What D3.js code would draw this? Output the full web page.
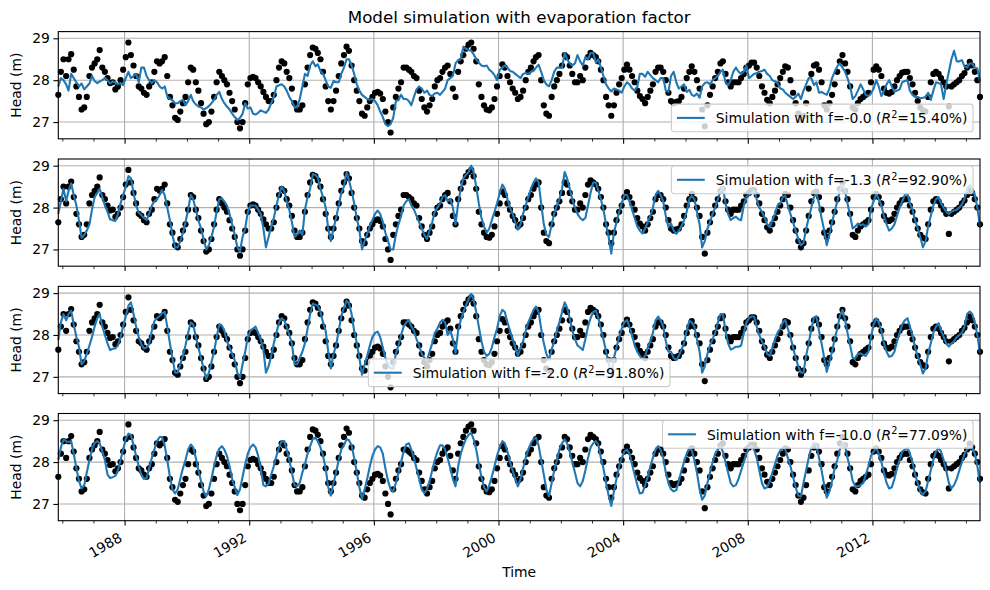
<!DOCTYPE html>
<html>
<head>
<meta charset="utf-8">
<script src="https://cdn.jsdelivr.net/npm/d3@7"></script>
<style>
body { margin: 0; background: #fff; }
svg { display: block; font-family: "DejaVu Sans", sans-serif; }
</style>
</head>
<body>
<div id="vis"></div>
<script>
// Monthly values, first month is Nov 1985, last is Jun 2015
let observed = [
  27.65, 28.2,
  28.5, 28.1, 28.5, 28.62, 28.25, 27.85, 27.6, 27.3, 27.35, 27.6, 28.1, 28.3,
  28.4, 28.5, 28.72, 28.3, 28.2, 28.05, 27.93, 27.95, 27.78, 27.85, 28.0, 28.25,
  28.55, 28.9, 28.6, 28.35, 28.1, 27.85, 27.8, 27.7, 27.65, 27.85, 27.95, 28.2,
  28.45, 28.4, 28.45, 28.55, 28.1, 27.6, 27.4, 27.1, 27.05, 27.25, 27.45, 27.6,
  27.95, 28.3, 28.25, 27.95, 27.75, 27.45, 27.2, 26.95, 27.0, 27.25, 27.6, 27.95,
  28.2, 28.1, 28.0, 27.9, 27.7, 27.5, 27.3, 27.0, 26.85, 27.0, 27.45, 27.9,
  28.05, 28.08, 28.05, 27.95, 27.85, 27.72, 27.6, 27.5, 27.5, 27.65, 28.0, 28.3,
  28.45, 28.4, 28.2, 28.05, 27.8, 27.45, 27.3, 27.3, 27.4, 27.9, 28.3, 28.6,
  28.78, 28.75, 28.65, 28.5, 28.2, 27.85, 27.5, 27.3, 27.5, 27.75, 28.1, 28.4,
  28.6, 28.8, 28.7, 28.35, 28.0, 27.75, 27.5, 27.2, 27.15, 27.35, 27.5, 27.6,
  27.7, 27.72, 27.68, 27.55, 27.25, 27.0, 26.75, 27.35, 27.6, 27.8, 27.95, 28.3,
  28.3, 28.25, 28.2, 28.1, 28.05, 27.75, 27.55, 27.35, 27.25, 27.4, 27.55, 27.85,
  28.0, 28.05, 28.2, 28.3, 28.35, 28.15, 27.8, 27.6, 28.2, 28.45, 28.6, 28.75,
  28.85, 28.9, 28.75, 28.45, 27.9, 27.6, 27.4, 27.3, 27.28, 27.35, 27.55, 27.85,
  28.1, 28.38, 28.3, 28.1, 27.95, 27.8, 27.7, 27.55, 27.6, 27.75, 28.0, 28.2,
  28.3, 28.45, 28.55, 28.6, 28.0, 27.4, 27.2, 27.15, 27.6, 27.85, 28.0, 28.15,
  28.35, 28.6, 28.55, 28.35, 28.15, 27.95, 27.95, 28.1, 28.0, 28.3, 28.55, 28.65,
  28.6, 28.55, 28.45, 28.25, 28.0, 27.6, 27.4, 27.15, 27.4, 27.7, 27.9, 28.05,
  28.25, 28.37, 28.25, 28.1, 27.95, 27.75, 27.62, 27.55, 27.45, 27.6, 27.75, 27.9,
  28.2, 28.3, 28.3, 28.2, 28.0, 27.7, 27.5, 27.45, 27.48, 27.5, 27.6, 27.8,
  28.05, 28.2, 28.33, 28.2, 28.0, 27.8, 27.3, 26.9, 27.4, 27.65, 27.85, 28.05,
  28.2, 28.4, 28.45, 28.15, 27.95, 27.85, 27.95, 27.95, 27.95, 28.05, 28.15, 28.3,
  28.35, 28.42, 28.42, 28.3, 28.1, 27.85, 27.7, 27.53, 27.45, 27.6, 27.75, 27.9,
  28.05, 28.2, 28.33, 28.3, 28.0, 27.7, 27.45, 27.2, 27.05, 27.15, 27.45, 27.8,
  28.15, 28.35, 28.38, 28.25, 27.95, 27.4, 27.3, 27.45, 27.65, 27.9, 28.2, 28.45,
  28.6, 28.4, 28.2, 27.85, 27.35, 27.3, 27.45, 27.55, 27.6, 27.65, 27.7, 27.95,
  28.25, 28.33, 28.25, 28.1, 27.8, 27.7, 27.68, 27.72, 27.85, 28.0, 28.1, 28.18,
  28.2, 28.2, 28.05, 27.9, 27.7, 27.5, 27.35, 27.28, 27.25, 27.6, 27.95, 28.15,
  28.2, 28.15, 28.05, 27.95, 27.85, 27.37, 27.85, 27.9, 27.95, 28.0, 28.1, 28.17,
  28.3, 28.44, 28.35, 28.2, 28.0, 27.6
];

let simF00 = [
  27.85, 28.05,
  28.0, 27.9, 27.75, 28.15, 28.05, 27.95, 27.85, 27.92, 27.78, 27.85, 27.92, 28.1,
  27.98, 27.93, 27.97, 28.0, 28.05, 28.0, 27.92, 27.97, 27.95, 27.9, 27.93, 27.88,
  28.05, 28.2, 28.05, 28.1, 28.15, 27.95, 28.3, 28.3, 28.1, 28.0, 27.93, 28.0,
  27.95, 27.85, 27.8, 27.85, 27.62, 27.55, 27.52, 27.45, 27.45, 27.5, 27.53, 27.4,
  27.5, 27.65, 27.5, 27.42, 27.37, 27.35, 27.3, 27.33, 27.38, 27.45, 27.53, 27.65,
  27.72, 27.55, 27.45, 27.37, 27.3, 27.2, 27.12, 27.05, 27.1, 27.2, 27.45, 27.32,
  27.35, 27.2, 27.18, 27.22, 27.28, 27.25, 27.22, 27.3, 27.45, 27.6, 27.85, 27.88,
  27.9, 27.85, 27.75, 27.6, 27.5, 27.35, 27.35, 27.55, 27.85, 28.15, 28.1, 28.35,
  28.45, 28.33, 28.38, 28.22, 28.15, 28.0, 27.85, 27.82, 27.98, 27.95, 27.95, 28.15,
  28.3, 28.5, 28.5, 28.35, 28.15, 27.9, 27.75, 27.65, 27.6, 27.55, 27.53, 27.55,
  27.5, 27.4, 27.25, 27.12, 26.95, 26.9, 26.95, 27.1, 27.5, 27.52, 27.65, 27.55,
  27.55, 27.5, 27.4, 27.6, 27.78, 27.85, 27.8, 27.7, 27.75, 27.65, 27.62, 27.68,
  27.7, 27.65, 27.72, 27.8, 28.0, 28.05, 28.1, 28.4, 28.48, 28.5, 28.8, 28.75,
  28.72, 28.7, 28.62, 28.5, 28.42, 28.35, 28.33, 28.35, 28.25, 28.2, 28.12, 28.0,
  28.25, 28.3, 28.35, 28.3, 28.22, 28.2, 28.15, 28.1, 28.05, 28.15, 28.17, 28.15,
  28.2, 28.22, 28.3, 28.37, 28.2, 28.0, 27.9, 27.85, 28.0, 28.2, 28.3, 28.3,
  28.3, 28.65, 28.5, 28.4, 28.35, 28.4, 28.6, 28.45, 28.35, 28.55, 28.5, 28.65,
  28.65, 28.42, 28.5, 28.3, 28.1, 27.9, 27.8, 27.73, 27.8, 27.78, 27.75, 27.7,
  27.85, 27.95, 27.9, 27.8, 27.75, 27.85, 28.15, 28.15, 28.08, 28.2, 28.12, 28.05,
  28.0, 27.95, 28.05, 28.05, 27.75, 27.72, 28.1, 28.2, 27.95, 27.8, 27.85, 27.9,
  27.72, 27.77, 27.65, 27.62, 27.68, 27.58, 27.85, 27.93, 27.95, 27.9, 28.0, 28.05,
  28.1, 28.2, 28.25, 27.95, 27.88, 28.0, 28.2, 28.3, 28.2, 28.15, 28.2, 28.35,
  28.05, 28.1, 28.15, 28.17, 28.2, 28.22, 28.25, 28.15, 28.1, 28.0, 27.97, 27.93,
  27.8, 27.78, 27.7, 27.65, 27.6, 27.55, 27.6, 27.68, 27.55, 27.75, 27.9, 28.05,
  28.05, 27.88, 27.95, 27.7, 27.72, 27.68, 27.65, 27.8, 28.05, 28.2, 28.33, 28.4,
  28.3, 28.2, 28.05, 27.85, 27.55, 27.62, 27.75, 27.9, 27.78, 27.65, 27.62, 27.68,
  27.8, 28.0, 27.85, 27.62, 27.75, 27.9, 28.0, 27.85, 27.72, 27.75, 27.78, 27.95,
  27.98, 28.0, 27.75, 27.65, 27.6, 27.6, 27.57, 27.58, 27.6, 27.7, 27.53, 27.75,
  27.95, 27.93, 27.9, 27.55, 27.9, 28.2, 28.5, 28.7, 28.45, 28.45, 28.48, 28.33,
  28.3, 28.4, 28.4, 28.3, 28.28, 27.97
];

let simF13 = [
  27.85, 28.15,
  28.45, 28.15, 28.4, 28.58, 28.3, 28.05, 27.7, 27.28, 27.35, 27.45, 27.6, 27.95,
  28.25, 28.35, 28.45, 28.25, 28.05, 27.9, 27.72, 27.7, 27.68, 27.85, 28.1, 28.3,
  28.5, 28.75, 28.7, 28.35, 28.05, 27.88, 27.82, 27.75, 27.7, 27.85, 28.05, 28.15,
  28.2, 28.3, 28.42, 28.3, 28.0, 27.7, 27.35, 27.05, 27.05, 27.2, 27.4, 27.65,
  27.95, 28.3, 28.2, 27.95, 27.7, 27.5, 27.25, 27.0, 27.1, 27.3, 27.55, 27.9,
  28.2, 28.22, 28.15, 28.05, 27.85, 27.6, 27.35, 27.05, 26.95, 27.3, 27.5, 27.9,
  28.05, 28.05, 28.05, 27.95, 27.85, 27.5, 27.05, 27.3, 27.55, 27.75, 28.05, 28.3,
  28.5, 28.4, 28.15, 27.95, 27.65, 27.3, 27.35, 27.45, 27.35, 27.95, 28.25, 28.45,
  28.8, 28.78, 28.72, 28.45, 28.25, 28.0, 27.5, 27.2, 27.5, 27.75, 28.05, 28.35,
  28.5, 28.85, 28.65, 28.4, 28.1, 27.75, 27.45, 27.0, 27.2, 27.37, 27.55, 27.7,
  27.85, 27.93, 27.85, 27.65, 27.4, 27.2, 27.0, 27.0, 27.35, 27.6, 27.8, 28.05,
  28.15, 28.2, 28.05, 27.95, 27.8, 27.65, 27.5, 27.35, 27.25, 27.45, 27.65, 27.9,
  28.0, 28.1, 28.25, 28.3, 28.15, 28.2, 28.0, 27.6, 28.1, 28.45, 28.7, 28.78,
  28.85, 29.0, 28.85, 28.5, 28.1, 27.75, 27.55, 27.4, 27.5, 27.7, 27.9, 28.1,
  28.35, 28.55, 28.45, 28.2, 28.0, 27.85, 27.65, 27.47, 27.6, 27.85, 28.05, 28.25,
  28.45, 28.6, 28.7, 28.6, 28.1, 27.6, 27.35, 27.3, 27.6, 27.85, 28.05, 28.2,
  28.45, 28.85, 28.7, 28.45, 28.2, 28.0, 27.85, 27.75, 27.7, 27.75, 28.05, 28.35,
  28.6, 28.6, 28.42, 28.2, 27.95, 27.6, 27.3, 26.9, 27.4, 27.65, 27.9, 28.1,
  28.3, 28.3, 28.15, 27.95, 27.75, 27.55, 27.45, 27.38, 27.5, 27.65, 27.8, 28.0,
  28.3, 28.4, 28.3, 28.15, 27.8, 27.53, 27.62, 27.45, 27.37, 27.45, 27.55, 27.7,
  27.9, 28.2, 28.28, 28.2, 27.9, 27.6, 27.05, 27.2, 27.5, 27.65, 27.85, 28.0,
  28.2, 28.4, 28.5, 28.1, 27.85, 27.7, 27.75, 27.78, 27.72, 27.7, 28.05, 28.25,
  28.3, 28.35, 28.4, 28.2, 28.0, 27.9, 27.77, 27.6, 27.53, 27.7, 27.85, 28.05,
  28.1, 28.25, 28.28, 28.05, 27.85, 27.65, 27.45, 27.25, 27.1, 27.15, 27.5, 27.75,
  28.0, 28.25, 28.33, 28.1, 27.75, 27.45, 27.1, 27.35, 27.65, 27.9, 28.15, 28.4,
  28.55, 28.4, 28.1, 27.8, 27.5, 27.55, 27.62, 27.58, 27.6, 27.55, 27.6, 27.95,
  28.15, 28.33, 28.2, 28.05, 27.8, 27.6, 27.45, 27.5, 27.6, 27.8, 28.0, 28.15,
  28.3, 28.33, 28.1, 27.95, 27.7, 27.5, 27.3, 27.05, 27.2, 27.55, 27.8, 28.05,
  28.2, 28.25, 28.1, 28.0, 27.9, 27.85, 27.9, 27.93, 27.95, 28.0, 28.08, 28.2,
  28.45, 28.53, 28.45, 28.3, 28.0, 27.55
];

let simF20 = [
  27.88, 28.3,
  28.5, 28.35, 28.5, 28.58, 28.25, 27.95, 27.72, 27.3, 27.38, 27.55, 27.75, 27.95,
  28.2, 28.4, 28.5, 28.2, 28.0, 27.8, 27.64, 27.67, 27.68, 27.75, 27.95, 28.2,
  28.45, 28.7, 28.78, 28.5, 28.2, 27.95, 27.78, 27.68, 27.7, 27.78, 28.1, 28.33,
  28.4, 28.45, 28.52, 28.55, 28.2, 27.8, 27.45, 27.1, 27.1, 27.3, 27.5, 27.75,
  28.05, 28.3, 28.25, 27.95, 27.7, 27.45, 27.2, 26.95, 27.1, 27.35, 27.6, 27.95,
  28.25, 28.22, 28.1, 27.85, 27.7, 27.55, 27.4, 27.1, 26.98, 27.3, 27.6, 27.95,
  28.1, 28.15, 28.2, 28.05, 27.9, 27.65, 27.1, 27.25, 27.5, 27.8, 28.05, 28.3,
  28.4, 28.35, 28.2, 28.0, 27.8, 27.3, 27.3, 27.45, 27.6, 27.8, 28.15, 28.5,
  28.75, 28.72, 28.7, 28.55, 28.3, 28.1, 27.6, 27.2, 27.55, 27.75, 28.1, 28.45,
  28.65, 28.82, 28.75, 28.5, 28.1, 27.8, 27.45, 27.05, 27.3, 27.5, 27.75, 27.95,
  28.05, 28.08, 27.95, 27.7, 27.45, 27.3, 27.2, 27.2, 27.55, 27.75, 28.0, 28.2,
  28.3, 28.36, 28.2, 28.1, 27.9, 27.75, 27.55, 27.45, 27.4, 27.6, 27.8, 28.05,
  28.15, 28.3, 28.36, 28.3, 28.0, 28.1, 27.9, 27.56, 28.1, 28.35, 28.55, 28.7,
  28.85, 28.98, 28.85, 28.55, 28.2, 27.85, 27.6, 27.5, 27.55, 27.7, 27.95, 28.15,
  28.45, 28.6, 28.55, 28.3, 28.1, 27.9, 27.7, 27.5, 27.7, 27.85, 28.1, 28.3,
  28.45, 28.6, 28.68, 28.55, 28.15, 27.8, 27.55, 27.4, 27.65, 27.85, 28.1, 28.3,
  28.55, 28.78, 28.65, 28.4, 28.1, 27.9, 27.75, 27.7, 27.64, 27.9, 28.2, 28.4,
  28.55, 28.58, 28.42, 28.15, 27.9, 27.6, 27.35, 27.0, 27.45, 27.7, 27.95, 28.15,
  28.3, 28.36, 28.2, 28.0, 27.75, 27.6, 27.5, 27.42, 27.5, 27.7, 27.85, 28.05,
  28.35, 28.44, 28.35, 28.2, 27.85, 27.6, 27.6, 27.45, 27.4, 27.5, 27.65, 27.8,
  28.1, 28.34, 28.3, 28.2, 27.9, 27.6, 27.1, 27.25, 27.55, 27.75, 27.9, 28.05,
  28.3, 28.5, 28.5, 28.1, 27.8, 27.65, 27.68, 27.72, 27.72, 27.75, 28.05, 28.3,
  28.4, 28.44, 28.44, 28.2, 28.0, 27.85, 27.72, 27.55, 27.5, 27.7, 27.9, 28.05,
  28.15, 28.3, 28.36, 28.15, 27.95, 27.7, 27.45, 27.25, 27.1, 27.1, 27.5, 27.8,
  28.15, 28.42, 28.45, 28.1, 27.8, 27.45, 27.12, 27.35, 27.6, 27.9, 28.15, 28.45,
  28.6, 28.35, 28.05, 27.75, 27.45, 27.45, 27.55, 27.56, 27.52, 27.5, 27.6, 27.95,
  28.25, 28.4, 28.3, 28.1, 27.8, 27.6, 27.48, 27.5, 27.6, 27.85, 28.05, 28.25,
  28.35, 28.4, 28.2, 28.0, 27.7, 27.5, 27.3, 27.08, 27.2, 27.55, 27.8, 28.05,
  28.2, 28.28, 28.1, 27.96, 27.8, 27.72, 27.8, 27.85, 27.95, 28.0, 28.05, 28.2,
  28.5, 28.56, 28.5, 28.3, 28.0, 27.56
];

let simF100 = [
  28.05, 28.35,
  28.54, 28.5, 28.48, 28.5, 28.2, 27.85, 27.55, 27.37, 27.45, 27.75, 28.05, 28.3,
  28.45, 28.5, 28.45, 28.25, 28.05, 27.7, 27.62, 27.64, 27.67, 27.8, 28.05, 28.3,
  28.55, 28.68, 28.65, 28.4, 28.15, 27.9, 27.7, 27.6, 27.62, 27.85, 28.1, 28.3,
  28.5, 28.6, 28.6, 28.4, 28.05, 27.65, 27.35, 27.25, 27.35, 27.6, 27.85, 28.05,
  28.3, 28.42, 28.35, 28.1, 27.8, 27.55, 27.3, 27.18, 27.35, 27.6, 27.9, 28.15,
  28.32, 28.38, 28.3, 28.15, 27.9, 27.6, 27.4, 27.21, 27.35, 27.65, 27.95, 28.2,
  28.35, 28.42, 28.35, 28.15, 27.85, 27.45, 27.42, 27.48, 27.7, 27.9, 28.15, 28.35,
  28.5, 28.5, 28.3, 28.05, 27.75, 27.45, 27.42, 27.5, 27.75, 27.95, 28.2, 28.38,
  28.55, 28.58, 28.5, 28.35, 28.15, 27.85, 27.4, 27.2, 27.5, 27.75, 28.05, 28.3,
  28.4, 28.55, 28.52, 28.4, 28.1, 27.75, 27.4, 27.12, 27.35, 27.6, 27.9, 28.15,
  28.3, 28.38, 28.35, 28.2, 27.85, 27.55, 27.35, 27.3, 27.5, 27.75, 28.0, 28.25,
  28.42, 28.45, 28.3, 28.1, 27.85, 27.6, 27.35, 27.26, 27.35, 27.55, 27.8, 28.05,
  28.25, 28.4, 28.4, 28.3, 28.1, 27.85, 27.6, 27.42, 27.9, 28.2, 28.4, 28.55,
  28.65, 28.7, 28.55, 28.3, 27.95, 27.65, 27.4, 27.3, 27.45, 27.65, 27.9, 28.15,
  28.35, 28.5, 28.45, 28.25, 28.0, 27.8, 27.6, 27.42, 27.6, 27.85, 28.1, 28.3,
  28.45, 28.55, 28.58, 28.4, 28.05, 27.7, 27.35, 27.18, 27.5, 27.8, 28.05, 28.3,
  28.45, 28.54, 28.45, 28.25, 28.0, 27.75, 27.5, 27.42, 27.55, 27.8, 28.1, 28.35,
  28.45, 28.5, 28.42, 28.1, 27.85, 27.5, 27.2, 26.95, 27.3, 27.6, 27.9, 28.1,
  28.25, 28.3, 28.2, 27.95, 27.7, 27.45, 27.25, 27.27, 27.45, 27.65, 27.9, 28.1,
  28.3, 28.38, 28.3, 28.1, 27.75, 27.5, 27.35, 27.3, 27.33, 27.55, 27.8, 28.0,
  28.2, 28.34, 28.28, 28.05, 27.75, 27.35, 27.1, 27.2, 27.5, 27.75, 28.0, 28.2,
  28.3, 28.38, 28.25, 28.0, 27.75, 27.5, 27.42, 27.45, 27.6, 27.8, 28.0, 28.2,
  28.35, 28.38, 28.3, 28.1, 27.8, 27.5, 27.37, 27.4, 27.55, 27.75, 27.95, 28.15,
  28.28, 28.34, 28.3, 28.1, 27.9, 27.65, 27.4, 27.2, 27.18, 27.5, 27.8, 28.1,
  28.35, 28.46, 28.4, 28.1, 27.8, 27.45, 27.15, 27.3, 27.55, 27.85, 28.05, 28.3,
  28.45, 28.38, 28.1, 27.85, 27.55, 27.42, 27.42, 27.45, 27.5, 27.7, 27.9, 28.15,
  28.25, 28.34, 28.2, 28.0, 27.75, 27.5, 27.37, 27.4, 27.6, 27.85, 28.05, 28.25,
  28.3, 28.34, 28.2, 28.0, 27.7, 27.5, 27.3, 27.22, 27.3, 27.55, 27.8, 28.05,
  28.25, 28.34, 28.25, 28.05, 27.8, 27.5, 27.37, 27.45, 27.6, 27.8, 28.0, 28.2,
  28.3, 28.38, 28.35, 28.2, 27.9, 27.5
];

let factors = ['-0.0', '-1.3', '-2.0', '-10.0'];
let rSquared = ['15.40', '92.90', '91.80', '77.09'];
let legendLoc = ['lower right', 'upper right', 'lower center', 'upper right'];
let majorYears = [1988, 1992, 1996, 2000, 2004, 2008, 2012];
let minorYears = [1986, 1987, 1989, 1990, 1991, 1993, 1994, 1995, 1997, 1998, 1999,
  2001, 2002, 2003, 2005, 2006, 2007, 2009, 2010, 2011, 2013, 2014, 2015];
let headTicks = [27, 28, 29];
let headRange = [26.6, 29.16];

let W = 990;
let H = 590;
let left = 58.3;
let right = 980;
let panelTop = [31.6, 159.0, 286.4, 413.5];
let panelH = 107.2;
let fs = 13.9;
let blue = '#1f77b4';

let svg = d3.select('#vis').append('svg').attr('width', W).attr('height', H);
svg.append('rect').attr('width', W).attr('height', H).attr('fill', 'white');

// Dates for every monthly value
let startMonth = new Date(1985, 10, 15);
let dates = observed.map((d, i) => d3.timeMonth.offset(startMonth, i));

let x = d3.scaleTime().domain(d3.extent(dates)).range([left, right]);

let sims = [simF00, simF13, simF20, simF100];

sims.forEach((sim, p) => {
	let top = panelTop[p];
	let bottom = top + panelH;
	let y = d3.scaleLinear().domain(headRange).range([bottom, top]);
	let g = svg.append('g');

	// Grid lines
	g.selectAll('line.vg').data(majorYears).enter().append('line')
		.attr('x1', d => x(new Date(d, 0, 1)))
		.attr('x2', d => x(new Date(d, 0, 1)))
		.attr('y1', top).attr('y2', bottom)
		.attr('stroke', '#b0b0b0').attr('stroke-width', 1.1);
	g.selectAll('line.hg').data(headTicks).enter().append('line')
		.attr('x1', left).attr('x2', right)
		.attr('y1', d => y(d)).attr('y2', d => y(d))
		.attr('stroke', '#b0b0b0').attr('stroke-width', 1.1);

	// Observations
	g.selectAll('circle').data(observed).enter().append('circle')
		.attr('cx', (d, i) => x(dates[i]))
		.attr('cy', d => y(d))
		.attr('r', 3.1)
		.attr('fill', 'black');

	// Simulation
	let line = d3.line().x((d, i) => x(dates[i])).y(d => y(d));
	g.append('path').datum(sim)
		.attr('d', line)
		.attr('fill', 'none')
		.attr('stroke', blue)
		.attr('stroke-width', 2.1)
		.attr('stroke-linejoin', 'round');

	// Frame
	g.append('rect')
		.attr('x', left).attr('y', top)
		.attr('width', right - left).attr('height', panelH)
		.attr('fill', 'none').attr('stroke', 'black').attr('stroke-width', 1.1);

	// Y axis
	let yAxis = g.append('g').attr('transform', `translate(${left},0)`)
		.call(d3.axisLeft(y).tickValues(headTicks).tickSize(4.9).tickPadding(3.5).tickFormat(d3.format('d')));
	yAxis.select('.domain').remove();
	yAxis.selectAll('line').attr('stroke-width', 1.1);
	yAxis.attr('font-size', fs).attr('font-family', 'DejaVu Sans');
	yAxis.selectAll('text').attr('fill', '#000');

	g.append('text')
		.attr('transform', `translate(21.3,${top + panelH / 2}) rotate(-90)`)
		.attr('text-anchor', 'middle')
		.attr('font-size', fs)
		.text('Head (m)');

	// X axis, major and minor ticks
	let xMajor = g.append('g').attr('transform', `translate(0,${bottom})`)
		.call(d3.axisBottom(x).tickValues(majorYears.map(d => new Date(d, 0, 1)))
			.tickSize(4.9).tickFormat(d3.timeFormat('%Y')));
	xMajor.select('.domain').remove();
	xMajor.selectAll('line').attr('stroke-width', 1.1);
	xMajor.attr('font-size', fs).attr('font-family', 'DejaVu Sans');
	if (p === sims.length - 1) {
		xMajor.selectAll('text')
			.attr('fill', '#000')
			.attr('x', 0).attr('y', 0).attr('dy', 0)
			.attr('text-anchor', 'end')
			.attr('transform', 'translate(-2,19.8) rotate(-30)');
	} else {
		xMajor.selectAll('text').remove();
	}
	let xMinor = g.append('g').attr('transform', `translate(0,${bottom})`)
		.call(d3.axisBottom(x).tickValues(minorYears.map(d => new Date(d, 0, 1)))
			.tickSize(2.8).tickFormat(''));
	xMinor.select('.domain').remove();
	xMinor.selectAll('line').attr('stroke-width', 0.8);

	// Legend
	let lg = g.append('g');
	let box = lg.append('rect')
		.attr('rx', 2.8).attr('ry', 2.8)
		.attr('fill', 'white').attr('fill-opacity', 0.8)
		.attr('stroke', '#cccccc').attr('stroke-width', 1.1);
	let txt = lg.append('text').attr('font-size', fs).attr('x', 44.4).attr('y', 19.3);
	txt.append('tspan').text(`Simulation with f=${factors[p]} (`);
	txt.append('tspan').attr('font-style', 'italic').text('R');
	txt.append('tspan').attr('font-size', fs * 0.7).attr('dy', -5.6).text('2');
	txt.append('tspan').attr('dy', 5.6).text(`=${rSquared[p]}%)`);
	lg.append('line')
		.attr('x1', 5.6).attr('x2', 33.4).attr('y1', 13.8).attr('y2', 13.8)
		.attr('stroke', blue).attr('stroke-width', 2.1);
	let bw = 44.4 + txt.node().getComputedTextLength() + 5.6;
	let bh = 27.7;
	box.attr('width', bw).attr('height', bh);
	let lx = right - 7 - bw;
	let ly = top + 7;
	if (legendLoc[p] === 'lower right') ly = bottom - 7 - bh;
	if (legendLoc[p] === 'lower center') {
		lx = (left + right) / 2 - bw / 2;
		ly = bottom - 7 - bh;
	}
	lg.attr('transform', `translate(${lx},${ly})`);
});

// Title and x label
svg.append('text')
	.attr('x', (left + right) / 2).attr('y', 23.4)
	.attr('text-anchor', 'middle')
	.attr('font-size', 16.7)
	.text('Model simulation with evaporation factor');

svg.append('text')
	.attr('x', (left + right) / 2).attr('y', 577)
	.attr('text-anchor', 'middle')
	.attr('font-size', fs)
	.text('Time');
</script>
</body>
</html>
